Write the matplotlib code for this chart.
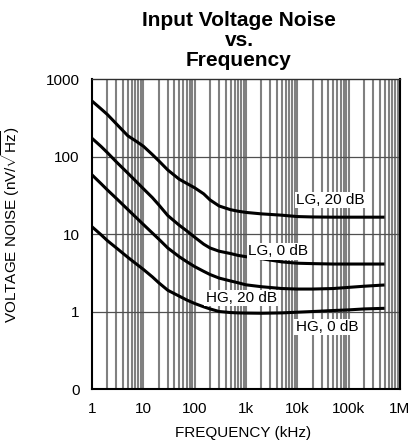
import matplotlib

matplotlib.use("Agg")

from matplotlib import pyplot as plt
from matplotlib.ticker import FixedLocator, NullFormatter

plt.rcParams["font.family"] = ["Liberation Sans", "DejaVu Sans"]
plt.rcParams["mathtext.fontset"] = "custom"
plt.rcParams["mathtext.rm"] = "Liberation Sans"
plt.rcParams["mathtext.it"] = "Liberation Sans:italic"

# frequency (kHz) sample points
freq = [1, 1.5, 2, 3, 5, 7, 10, 15, 20, 30, 50, 70, 100, 150, 200, 300, 500, 700,
        1e3, 2e3, 5e3, 1e4, 2e4, 5e4, 1e5, 2e5, 5e5]

# voltage noise (nV/rtHz)
lg_20db = [520, 412, 348, 263, 185, 160, 136, 106, 88, 67, 51, 45, 39.5, 33, 27.5, 23,
           20.6, 19.7, 19.0, 18.2, 17.5, 16.8, 16.6, 16.5, 16.5, 16.5, 16.5]
lg_0db = [172, 135, 112, 85, 61, 48.8, 38.5, 29.5, 23.8, 17.3, 13, 11, 9.1, 7.4, 6.6, 6.0,
          5.6, 5.3, 5.1, 4.8, 4.37, 4.2, 4.15, 4.1, 4.1, 4.1, 4.1]
hg_20db = [58, 44.7, 37, 28.7, 20.7, 16.7, 13.3, 10.3, 8.6, 6.6, 5.1, 4.4, 3.8, 3.3, 3.0, 2.7,
           2.48, 2.35, 2.21, 2.09, 1.98, 1.95, 1.95, 1.98, 2.05, 2.12, 2.2]
hg_0db = [12.4, 9.8, 8.2, 6.6, 5.0, 4.2, 3.5, 2.8, 2.35, 1.88, 1.58, 1.41, 1.27, 1.15, 1.08, 1.0,
          0.97, 0.96, 0.955, 0.95, 0.96, 0.98, 1.0, 1.03, 1.05, 1.08, 1.1]

series = [lg_20db, lg_0db, hg_20db, hg_0db]
series_labels = ["LG, 20 dB", "LG, 0 dB", "HG, 20 dB", "HG, 0 dB"]
label_pos = [(44e3, 27.5), (4.2e3, 6.0), (800, 1.49), (38e3, 0.63)]

x_ticks = [1, 10, 100, 1e3, 1e4, 1e5, 1e6]
x_tick_labels = ["1", "10", "100", "1k", "10k", "100k", "1M"]
y_ticks = [0.1, 1, 10, 100, 1000]
y_tick_labels = ["0", "1", "10", "100", "1000"]

fig = plt.figure(figsize=(4.11, 4.45), dpi=100)
ax = fig.add_axes([0.2238, 0.1258, 0.7494, 0.6966])
ax.set_xscale("log")
ax.set_yscale("log")
ax.set_xlim(1, 1e6)
ax.set_ylim(0.1, 1000)

# dense vertical grid: every 1..9 of each decade
minor = [m * 10.0**d for d in range(6) for m in range(2, 10)]
for xv in minor + x_ticks[1:-1]:
    ax.axvline(xv, color="#808080", linewidth=1.5, zorder=1)
for yv in [1, 10, 100]:
    ax.axhline(yv, color="#505050", linewidth=0.9, zorder=1)

for values in series:
    ax.plot(freq, values, color="black", linewidth=2.2, zorder=3,
            solid_capstyle="butt", solid_joinstyle="round")

for text, (xv, yv) in zip(series_labels, label_pos):
    ax.text(xv, yv, text, ha="center", va="center", fontsize=11, zorder=4,
            bbox=dict(facecolor="white", edgecolor="none", pad=1.0))

ax.xaxis.set_major_locator(FixedLocator(x_ticks))
ax.xaxis.set_minor_locator(FixedLocator([]))
ax.xaxis.set_minor_formatter(NullFormatter())
ax.set_xticklabels(x_tick_labels)
ax.yaxis.set_major_locator(FixedLocator(y_ticks))
ax.yaxis.set_minor_locator(FixedLocator([]))
ax.set_yticklabels(y_tick_labels)
ax.tick_params(axis="both", length=0, labelsize=11)
ax.tick_params(axis="x", pad=9)
ax.tick_params(axis="y", pad=9)

for side in ["left", "bottom", "right"]:
    ax.spines[side].set_linewidth(1.5)
ax.spines["top"].set_linewidth(1.0)
ax.spines["top"].set_color("#303030")

ax.set_xlabel("FREQUENCY (kHz)", fontsize=11)
ax.xaxis.set_label_coords(0.49, -0.119)
ax.set_ylabel(r"VOLTAGE NOISE (nV/$\sqrt{\mathrm{Hz}}$)", fontsize=11)
ax.yaxis.set_label_coords(-0.227, 0.532)

fig.text(0.5815, 0.975, "Input Voltage Noise\nvs.\nFrequency", ha="center", va="top",
         fontsize=15, fontweight="bold", linespacing=1.07)

fig.savefig("out.png", dpi=100)
plt.close(fig)
